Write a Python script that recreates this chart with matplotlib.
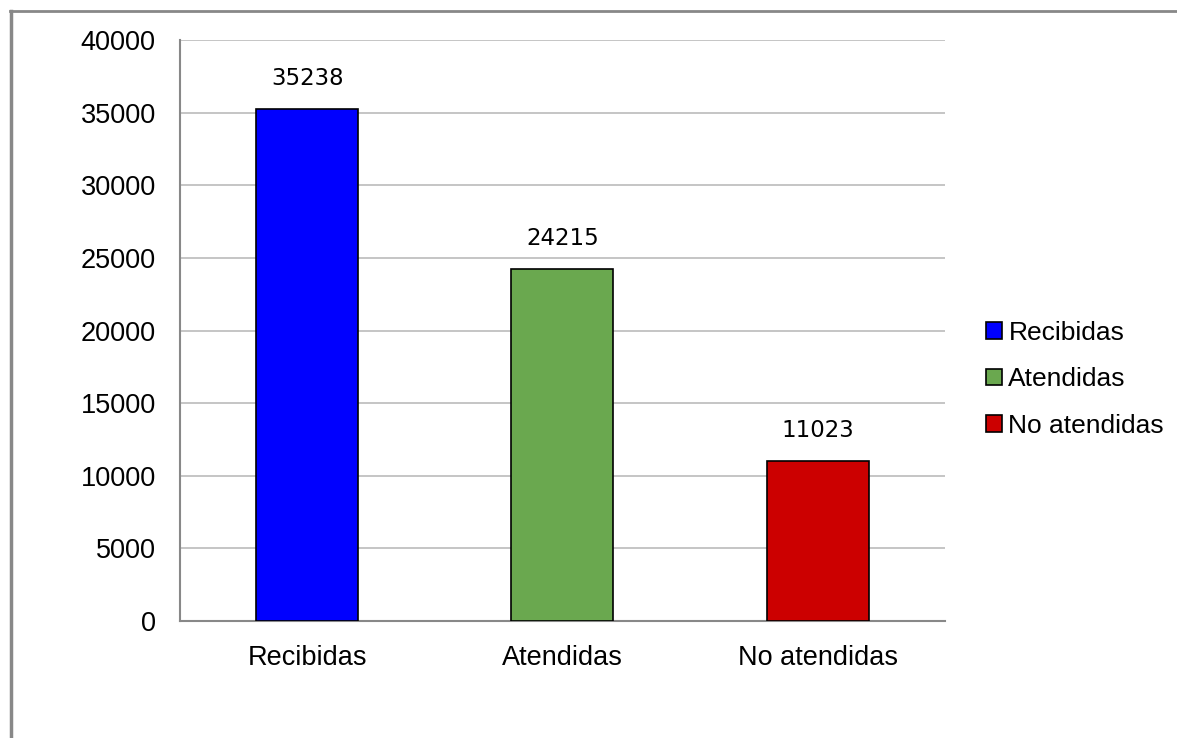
import matplotlib.pyplot as plt
from matplotlib.patches import Patch
from matplotlib.lines import Line2D

categories = ['Recibidas', 'Atendidas', 'No atendidas']
values = [35238, 24215, 11023]
colors = ['#0000ff', '#6aa84f', '#cc0000']
yticks = [0, 5000, 10000, 15000, 20000, 25000, 30000, 35000, 40000]

plt.rcParams['font.family'] = ['Liberation Sans', 'DejaVu Sans']

fig = plt.figure(figsize=(11.77, 7.38), dpi=100)
ax = fig.add_axes([0.1529, 0.1585, 0.65, 0.7873])

# outer frame lines (left and top)
fig.add_artist(Line2D([0.0093, 0.0093], [0.0, 0.985], color='#888888', lw=2.5, transform=fig.transFigure))
fig.add_artist(Line2D([0.0085, 1.0], [0.985, 0.985], color='#888888', lw=2.0, transform=fig.transFigure))

x = range(len(categories))
bars = ax.bar(x, values, width=0.4, color=colors, edgecolor='black', linewidth=1.2, zorder=3)

for i, v in enumerate(values):
    ax.text(i, v + 1300, str(v), ha='center', va='bottom', fontsize=16.5, family='DejaVu Sans')

ax.set_xlim(-0.5, 2.5)
ax.set_ylim(0, 40000)
ax.set_yticks(yticks)
ax.set_yticklabels([str(t) for t in yticks], fontsize=19.5)
ax.set_xticks(list(x))
ax.set_xticklabels(categories, fontsize=19.5)
ax.tick_params(axis='both', length=0)
ax.tick_params(axis='y', pad=17.5)
ax.tick_params(axis='x', pad=17)
ax.yaxis.grid(True, color='#bbbbbb', linewidth=1.2, zorder=0)
ax.set_axisbelow(True)
for s in ['top', 'right']:
    ax.spines[s].set_visible(False)
ax.spines['left'].set_color('#888888')
ax.spines['bottom'].set_color('#888888')
ax.spines['left'].set_linewidth(1.5)
ax.spines['bottom'].set_linewidth(1.5)

handles = [Patch(facecolor=c, edgecolor='black', linewidth=1.2) for c in colors]
fig.legend(handles, categories, loc='center left', bbox_to_anchor=(0.8175, 0.486),
           frameon=False, fontsize=19, handlelength=0.6, handleheight=0.6,
           handletextpad=0.25, labelspacing=0.85)

fig.savefig('out.png', dpi=100, facecolor='white')
